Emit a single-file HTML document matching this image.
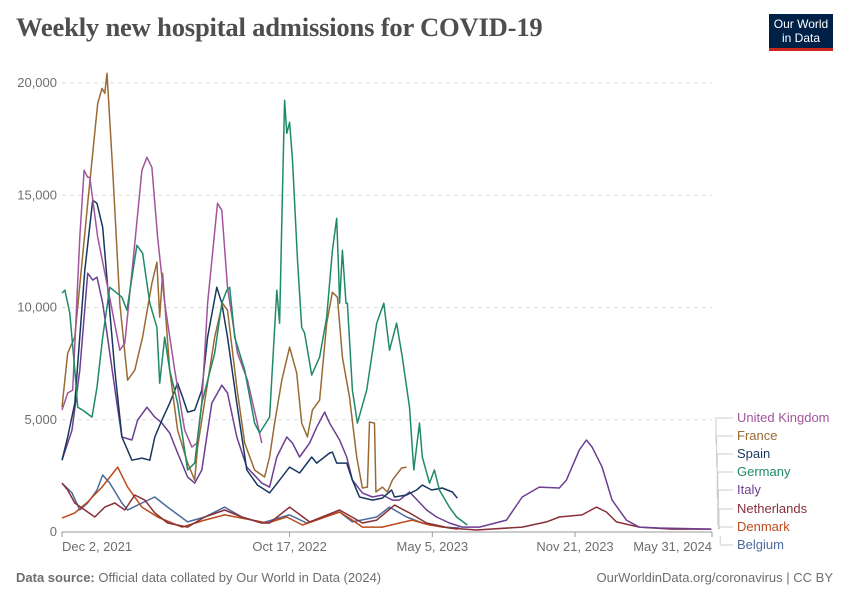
<!DOCTYPE html>
<html><head><meta charset="utf-8"><style>
body{margin:0;background:#fff;font-family:"Liberation Sans",sans-serif;}
#wrap{position:relative;width:850px;height:600px;overflow:hidden;}
h1{position:absolute;left:16px;top:12px;margin:0;font-family:"Liberation Serif",serif;font-weight:bold;font-size:26.6px;color:#4e4e4e;letter-spacing:-0.2px;}
#logo{position:absolute;left:769px;top:14px;width:64px;height:37px;background:#002147;border-bottom:3px solid #ce261e;color:#fff;font-size:12px;line-height:14px;text-align:center;padding-top:3px;box-sizing:border-box;}
.foot{position:absolute;top:570px;font-size:13px;color:#6e6e6e;}
</style></head><body>
<div id="wrap">
<h1>Weekly new hospital admissions for COVID-19</h1>
<div id="logo">Our World<br>in Data</div>
<svg id="chart" width="850" height="600" style="position:absolute;left:0;top:0"></svg>
<div class="foot" style="left:16px"><b>Data source:</b> Official data collated by Our World in Data (2024)</div>
<div class="foot" style="right:17px">OurWorldinData.org/coronavirus | CC BY</div>
</div>
<script>
const seriesNames=["United Kingdom","France","Spain","Germany","Italy","Netherlands","Denmark","Belgium"];
const seriesColors=["#a2559c","#9a6a34","#18375f","#1f8a68","#6d3e91","#883039","#bc4a1a","#4c6a9c"];
const yTicks=[0,5000,10000,15000,20000];
const xTickDays=[0,319,519,719,911];
const xTickLabels=["Dec 2, 2021","Oct 17, 2022","May 5, 2023","Nov 21, 2023","May 31, 2024"];
const ukDays=[0,8,15,25,31,36,39,50,64,81,88,102,112,119,126,134,144,158,172,182,189,196,204,218,224,232,246,260,280];
const ukVals=[5430,6190,6320,13130,16110,15800,15800,13130,10900,8100,8410,12860,16110,16690,16240,13130,10190,7210,4540,3780,3960,5740,10190,14640,14330,10900,7970,6760,3960];
const frDays=[0,8,18,36,50,56,60,63,71,81,92,102,113,126,133,137,141,151,162,176,186,190,214,225,232,245,256,270,284,291,298,308,319,329,336,340,344,351,361,371,379,386,393,403,413,421,428,431,438,440,449,456,463,476,483];
const frVals=[5560,7970,8680,14640,19090,19760,19540,20430,16110,10190,6760,7210,8680,11080,12020,9570,11530,7210,4540,3070,2310,3780,8680,10190,9880,6450,3960,2760,2450,3340,4850,6760,8230,7080,4850,4540,4230,5430,5870,9300,10680,10460,7790,6010,3340,1960,2000,4900,4850,1780,2000,1780,2310,2850,2890];
const esDays=[0,8,18,32,43,49,57,64,74,84,98,112,123,130,140,151,162,169,176,186,196,204,217,224,232,245,259,274,291,305,319,333,350,357,375,379,385,399,407,417,435,449,462,466,483,497,505,518,533,547,554];
const esVals=[3200,4230,5740,11660,14770,14640,13570,10900,7210,4230,3200,3290,3200,4230,4980,5740,6630,6010,5340,5430,6320,8680,10900,10190,8680,5740,2760,2090,1740,2310,2890,2630,3340,3070,3520,3560,3070,3070,2310,1560,1420,1510,1870,1560,1650,1870,2090,1870,1960,1780,1510];
const deDays=[0,4,11,18,22,29,42,49,57,67,77,84,91,105,113,123,133,137,144,151,162,176,186,196,214,224,231,235,242,256,270,277,291,301,305,309,312,315,319,323,330,336,340,350,361,371,379,385,388,389,393,398,400,407,414,427,441,451,459,469,477,487,493,501,505,515,522,529,543,553,568];
const deVals=[10640,10770,9750,7210,5560,5430,5120,6450,8680,10900,10640,10460,9880,12770,12420,10190,9120,6630,8680,7210,5740,2760,3070,5740,7970,10190,10770,10900,8680,7210,4850,4410,5120,10770,9300,15220,19230,17760,18250,16560,12110,9120,8860,6990,7790,9570,12550,13970,11350,10190,12550,10190,10190,6320,4850,6320,9300,10190,8100,9300,7790,5560,2760,4850,3340,2180,2760,1870,1110,670,310];
const itDays=[0,14,25,36,43,49,57,67,77,84,98,106,119,130,140,151,162,176,186,196,210,224,232,245,259,280,291,301,315,323,333,347,357,368,375,389,399,407,421,435,449,463,473,487,498,511,525,543,561,585,623,645,669,697,707,725,735,743,757,771,791,809,837,910];
const itVals=[3200,4540,7210,11530,11220,11350,10190,7970,5740,4230,4100,4980,5560,5120,4850,4410,3520,2450,2180,2760,5740,6540,6190,4230,2890,2180,2000,3340,4230,3960,3340,3960,4670,5340,4850,4100,3340,2310,1740,1560,1650,1420,1420,1780,1420,980,670,400,220,220,530,1560,2000,1960,2310,3650,4100,3780,2890,1420,530,220,180,130];
const nlDays=[0,8,18,32,46,60,74,88,102,116,130,148,176,200,228,252,280,291,319,347,389,421,441,466,487,511,543,581,645,679,697,729,749,763,777,809,855,910];
const nlVals=[2180,1870,1290,980,670,1110,1290,980,1650,1420,850,400,220,670,980,670,400,400,1110,450,980,400,530,1200,850,400,180,90,220,450,670,760,1110,890,450,220,130,130];
const dkDays=[0,18,36,56,78,92,112,134,168,200,228,252,288,315,337,389,407,421,449,473,491,515,554];
const dkVals=[620,850,1340,2000,2890,2000,1110,670,220,530,760,620,400,670,310,890,530,220,220,400,530,310,130];
const beDays=[0,14,25,36,49,57,67,84,92,112,130,148,176,200,228,252,280,319,343,389,407,441,459,483,505,533,557];
const beVals=[2180,1740,980,1290,1870,2540,2180,1290,980,1290,1560,1110,450,670,1110,670,400,760,400,890,450,670,1110,670,400,220,180];
const allDays=[ukDays,frDays,esDays,deDays,itDays,nlDays,dkDays,beDays];
const allVals=[ukVals,frVals,esVals,deVals,itVals,nlVals,dkVals,beVals];

const X0=62,X1=712,Y0=532,Y1=83,DMAX=911,VMAX=20000;
const xs=d=>X0+(X1-X0)*d/DMAX;
const ys=v=>Y0-(Y0-Y1)*v/VMAX;
const svg=document.getElementById('chart');
const NS='http://www.w3.org/2000/svg';
function mk(tag,attrs){const e=document.createElementNS(NS,tag);for(const k in attrs)e.setAttribute(k,attrs[k]);svg.appendChild(e);return e;}

yTicks.forEach((t,i)=>{
  if(t>0){const g=mk('line',{x1:X0,x2:X1,y1:ys(t),y2:ys(t),stroke:'#dddddd','stroke-dasharray':'4,4'});
  
  }
  const tx=mk('text',{x:57,y:ys(t)+4,'text-anchor':'end','font-size':13,fill:'#6e6e6e','font-family':'Liberation Sans, sans-serif'});
  tx.textContent=t.toLocaleString('en-US');
  
  
});
const ax=mk('line',{x1:X0,x2:X1,y1:Y0,y2:Y0,stroke:'#999',"stroke-width":1});


xTickDays.forEach((d,i)=>{
  const tk=mk('line',{x1:xs(d),x2:xs(d),y1:Y0,y2:Y0+5,stroke:'#999'});
  
  
  const anchor=i===0?'start':(i===xTickDays.length-1?'end':'middle');
  const tx=mk('text',{x:xs(d),y:551,'text-anchor':anchor,'font-size':13,fill:'#6e6e6e','font-family':'Liberation Sans, sans-serif'});
  tx.textContent=xTickLabels[i];
  
  
});
const order=[7,6,5,4,2,1,0,3];
order.forEach(s=>{
  const pts=allDays[s].map((d,j)=>xs(d).toFixed(1)+','+ys(allVals[s][j]).toFixed(1)).join(' ');
  const pl=mk('polyline',{points:pts,fill:'none',stroke:seriesColors[s],'stroke-width':1.5,'stroke-linejoin':'round'});
  
  
});
const labelY=[418,436,454,472,490,509,527,545];
seriesNames.forEach((n,i)=>{
  const v=allVals[i];
  const ey=ys(v[v.length-1]);
  const ly=labelY[i];
  const bx=716+i*0.6;
  const c=mk('polyline',{points:`${bx},${Math.max(ey,ly-30+i*3)} ${bx},${ly} ${733},${ly}`,fill:'none',stroke:'#ccc','stroke-width':1});
  
  
  const t=mk('text',{x:737,y:ly+4,'font-size':13,fill:seriesColors[i],'font-family':'Liberation Sans, sans-serif'});
  t.textContent=n;
  
  
});
</script>
</body></html>
